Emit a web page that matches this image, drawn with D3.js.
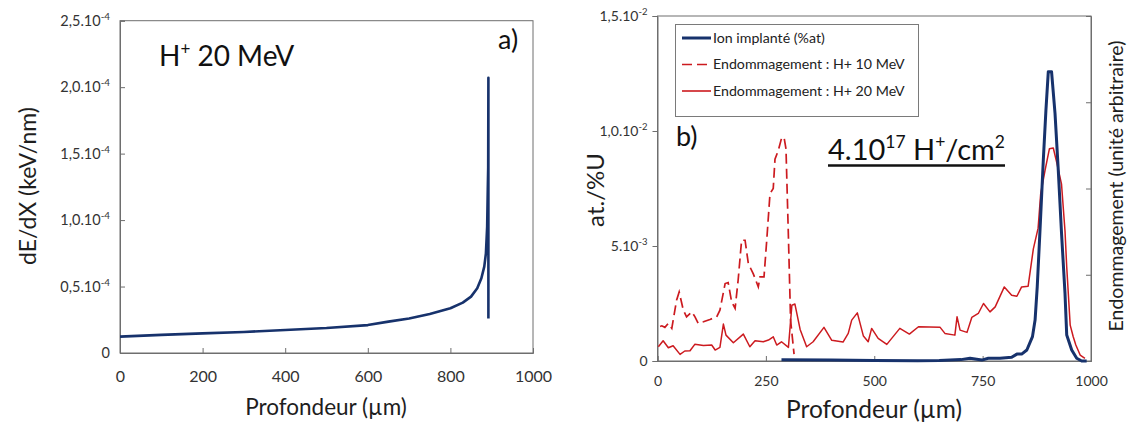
<!DOCTYPE html>
<html><head><meta charset="utf-8">
<script src="https://cdn.jsdelivr.net/npm/d3@7"></script>
<style>
body{margin:0;background:#fff}
svg{display:block}
text{font-family:Lato,"Noto Sans",sans-serif}
</style>
</head><body>
<svg id="c" width="1128" height="428"></svg>
<script>
// ---------- Panel a) : stopping power ----------
const stoppingDepth = [0,100,200,300,400,500,600,650,700,750,800,830,850,865,875,882,886,889,890.5,891.5,892,892];
const stoppingPower = [1.23e-5,1.36e-5,1.48e-5,1.58e-5,1.73e-5,1.88e-5,2.1e-5,2.36e-5,2.6e-5,2.94e-5,3.37e-5,3.79e-5,4.24e-5,4.87e-5,5.62e-5,6.5e-5,7.5e-5,9.5e-5,1.23e-4,1.4e-4,2.07e-4,0.26e-4];
const leftXTicks = [0,200,400,600,800,1000];
const leftYTicks = [0,0.5e-4,1.0e-4,1.5e-4,2.0e-4,2.5e-4];
const leftYTickBase = ["0","0,5.10","1,0.10","1,5.10","2,0.10","2,5.10"];
const leftYTickExp  = ["","-4","-4","-4","-4","-4"];

// ---------- Panel b) : implanted ion + damage ----------
const ionDepth = [286,400,500,600,650,700,721,748,763,790,817,829,840,852,865,871,876,882,890,896,901.5,909,917,924.5,932,940,944,955.5,967,978.5,990];
const ionConc  = [5e-5,4e-5,2e-5,1e-5,2e-5,6e-5,1.2e-4,4e-5,1.2e-4,1.2e-4,1.6e-4,3e-4,3e-4,4.8e-4,1.06e-3,1.78e-3,3.23e-3,5.55e-3,8.74e-3,1.09e-2,1.258e-2,1.258e-2,1.077e-2,8.3e-3,5.56e-3,2.95e-3,1.13e-3,4.8e-4,1.2e-4,0,0];

const dmg10Depth = [6,10,17,25,33,44,50,59.5,67,79,86.5,94,106,121,136.5,144,156,163,171,179,186,194,202,209.5,221,232.5,236.5,245.7,252,259.5,267,271,278.6,286.5,292,296.4,302,307,315];
const dmg10Value = [0.40,0.408,0.39,0.436,0.378,0.705,0.80,0.59,0.512,0.57,0.512,0.436,0.455,0.482,0.512,0.59,0.898,0.91,0.686,0.609,0.936,1.40,1.40,1.13,1.01,0.86,0.975,0.975,1.40,1.94,2.00,2.34,2.44,2.59,2.59,2.46,1.44,0.474,0.08];

const dmg20Depth = [2,13,25,36,52,63,75,86,106,125,133,144,152,158,175,198,213,225,244,256,267,275,286,302,310,317,329,344,359,384,402,428,440,448,461,475,486,494,509,529,559,581,602,652,663,686,691,698,714,725,740,752,767,779,800,817,829,840,855,867,878,884,894,904,913,921,932,940,944,952,959,965,975,986];
const dmg20Value = [0.165,0.235,0.154,0.177,0.077,0.116,0.119,0.193,0.181,0.185,0.127,0.158,0.428,0.30,0.212,0.312,0.165,0.235,0.223,0.243,0.281,0.185,0.223,0.158,0.647,0.66,0.366,0.165,0.223,0.39,0.24,0.22,0.32,0.474,0.558,0.289,0.223,0.378,0.262,0.193,0.378,0.312,0.397,0.39,0.32,0.30,0.512,0.358,0.332,0.505,0.551,0.667,0.57,0.628,0.859,0.763,0.751,0.859,0.867,1.30,1.54,1.94,2.21,2.46,2.47,2.30,2.05,1.51,1.09,0.416,0.281,0.185,0.069,0.031];

const rightXTicks = [0,250,500,750,1000];
const rightYTicks = [0,5e-3,1.0e-2,1.5e-2];
const rightYTickBase = ["0","5.10","1,0.10","1,5.10"];
const rightYTickExp  = ["","-3","-2","-2"];
const damageTicks = [0,1,2,3,4];

const legendLabels = ["Ion implanté (%at)","Endommagement : H+ 10 MeV","Endommagement : H+ 20 MeV"];

// ---------- styles ----------
const NAVY = "#17326c", RED = "#cc1a1f", AXIS = "#6e6e6e", TICKTXT = "#333";

const svg = d3.select("#c");

function supLabels(sel, bases, exps, fs) {
  sel.selectAll(".tick text").each(function(d, i) {
    const t = d3.select(this);
    t.text("");
    t.append("tspan").text(bases[i]);
    if (exps[i]) t.append("tspan").attr("dy", -fs*0.42).attr("font-size", fs*0.68).text(exps[i]);
  });
}
function styleAxis(g, fs) {
  g.select(".domain").attr("stroke", AXIS);
  g.selectAll(".tick line").attr("stroke", AXIS);
  g.selectAll(".tick text").attr("fill", TICKTXT).attr("font-size", fs).attr("font-family", "Lato");
}

// ================= Panel a =================
const xL = d3.scaleLinear().domain([0,1000]).range([120,533]);
const yL = d3.scaleLinear().domain([0,2.5e-4]).range([353,20.7]);

svg.append("rect").attr("x",120).attr("y",20.7).attr("width",413).attr("height",332.3)
  .attr("fill","none").attr("stroke",AXIS);

const gxL = svg.append("g").attr("transform","translate(0,353)")
  .call(d3.axisBottom(xL).tickValues(leftXTicks).tickSize(-5).tickPadding(18).tickFormat(d3.format("d")));
styleAxis(gxL, 16);
const gyL = svg.append("g").attr("transform","translate(120,0)")
  .call(d3.axisLeft(yL).tickValues(leftYTicks).tickSize(-5).tickPadding(10));
styleAxis(gyL, 14.5);
supLabels(gyL, leftYTickBase, leftYTickExp, 14.5);

svg.append("path")
  .datum(stoppingDepth.map((d,i)=>[d, stoppingPower[i]]))
  .attr("fill","none").attr("stroke",NAVY).attr("stroke-width",2.6).attr("stroke-linejoin","round")
  .attr("d", d3.line().x(d=>xL(d[0])).y(d=>yL(d[1])));

svg.append("text").attr("transform","translate(36,186) rotate(-90)")
  .attr("text-anchor","middle").attr("font-size",23).attr("fill","#1e1e1e").text("dE/dX (keV/nm)");
svg.append("text").attr("x",326).attr("y",415).attr("text-anchor","middle")
  .attr("font-size",22.5).attr("fill","#1e1e1e").text("Profondeur (µm)");

const hT = svg.append("text").attr("x",159).attr("y",66).attr("font-size",28)
  .attr("font-family","Liberation Sans, Arial, sans-serif").attr("fill","#111");
hT.append("tspan").text("H");
hT.append("tspan").attr("dy",-11).attr("font-size",17).text("+");
hT.append("tspan").attr("dy",11).text(" 20 MeV");

svg.append("text").attr("x",498).attr("y",49).attr("font-size",27)
  .attr("font-family","Liberation Sans, Arial, sans-serif").attr("fill","#111").text("a)");

// ================= Panel b =================
const xR = d3.scaleLinear().domain([0,1000]).range([657.5,1091]);
const yR = d3.scaleLinear().domain([0,1.5e-2]).range([361,16]);
const yD = d3.scaleLinear().domain([0,4]).range([361,16]);

svg.append("rect").attr("x",657.5).attr("y",16).attr("width",433.5).attr("height",345)
  .attr("fill","none").attr("stroke",AXIS);

const gxR = svg.append("g").attr("transform","translate(0,361)")
  .call(d3.axisBottom(xR).tickValues(rightXTicks).tickSize(-5).tickPadding(15).tickFormat(d3.format("d")));
styleAxis(gxR, 14);
const gyR = svg.append("g").attr("transform","translate(657.5,0)")
  .call(d3.axisLeft(yR).tickValues(rightYTicks).tickSize(5).tickPadding(5));
styleAxis(gyR, 14);
supLabels(gyR, rightYTickBase, rightYTickExp, 14);
const gyD = svg.append("g").attr("transform","translate(1091,0)")
  .call(d3.axisRight(yD).tickValues(damageTicks).tickSize(-5).tickFormat(""));
styleAxis(gyD, 14);

const lineR = d3.line().x(d=>xR(d[0])).y(d=>yD(d[1]));
svg.append("path")
  .datum(dmg10Depth.map((d,i)=>[d, dmg10Value[i]]))
  .attr("fill","none").attr("stroke",RED).attr("stroke-width",1.7).attr("stroke-dasharray","10,5")
  .attr("d", lineR);
svg.append("path")
  .datum(dmg20Depth.map((d,i)=>[d, dmg20Value[i]]))
  .attr("fill","none").attr("stroke",RED).attr("stroke-width",1.5).attr("stroke-linejoin","round")
  .attr("d", lineR);
svg.append("path")
  .datum(ionDepth.map((d,i)=>[d, ionConc[i]]))
  .attr("fill","none").attr("stroke",NAVY).attr("stroke-width",3).attr("stroke-linejoin","round")
  .attr("d", d3.line().x(d=>xR(d[0])).y(d=>yR(d[1])));

svg.append("text").attr("transform","translate(604,190) rotate(-90)")
  .attr("text-anchor","middle").attr("font-size",24).attr("fill","#1e1e1e").text("at./%U");
svg.append("text").attr("x",874).attr("y",418).attr("text-anchor","middle")
  .attr("font-size",24.5).attr("fill","#1e1e1e").text("Profondeur (µm)");
svg.append("text").attr("transform","translate(1123,186) rotate(-90)")
  .attr("text-anchor","middle").attr("font-size",19.5).attr("fill","#1e1e1e").text("Endommagement (unité arbitraire)");

svg.append("text").attr("x",676).attr("y",146).attr("font-size",27)
  .attr("font-family","Liberation Sans, Arial, sans-serif").attr("fill","#111").text("b)");

// fluence annotation
const fl = svg.append("text").attr("x",828).attr("y",160).attr("font-size",29)
  .attr("font-family","Liberation Sans, Arial, sans-serif").attr("fill","#111");
fl.append("tspan").text("4.10");
fl.append("tspan").attr("dy",-12).attr("font-size",17.5).text("17");
fl.append("tspan").attr("dy",12).text(" H");
fl.append("tspan").attr("dy",-12).attr("font-size",17.5).text("+");
fl.append("tspan").attr("dy",12).text("/cm");
fl.append("tspan").attr("dy",-12).attr("font-size",17.5).text("2");
const bb = fl.node().getBBox();
svg.append("line").attr("x1",bb.x).attr("x2",bb.x+bb.width).attr("y1",165.5).attr("y2",165.5)
  .attr("stroke","#111").attr("stroke-width",2.6);

// legend
const lg = svg.append("g");
lg.append("rect").attr("x",675.5).attr("y",24.5).attr("width",243).attr("height",92)
  .attr("fill","#fff").attr("stroke","#7a7a7a");
const legendStyles = [{c:NAVY,w:3,da:null},{c:RED,w:1.7,da:"10,5"},{c:RED,w:1.6,da:null}];
const legY = d3.scalePoint().domain(legendLabels).range([38,91]);
legendLabels.forEach((lab,i)=>{
  const y = legY(lab);
  lg.append("line").attr("x1",682).attr("x2",711).attr("y1",y).attr("y2",y)
    .attr("stroke",legendStyles[i].c).attr("stroke-width",legendStyles[i].w)
    .attr("stroke-dasharray",legendStyles[i].da);
  lg.append("text").attr("x",713).attr("y",y).attr("dy","0.35em").attr("font-size",14.2)
    .attr("fill","#222").text(lab);
});
</script>
</body></html>
